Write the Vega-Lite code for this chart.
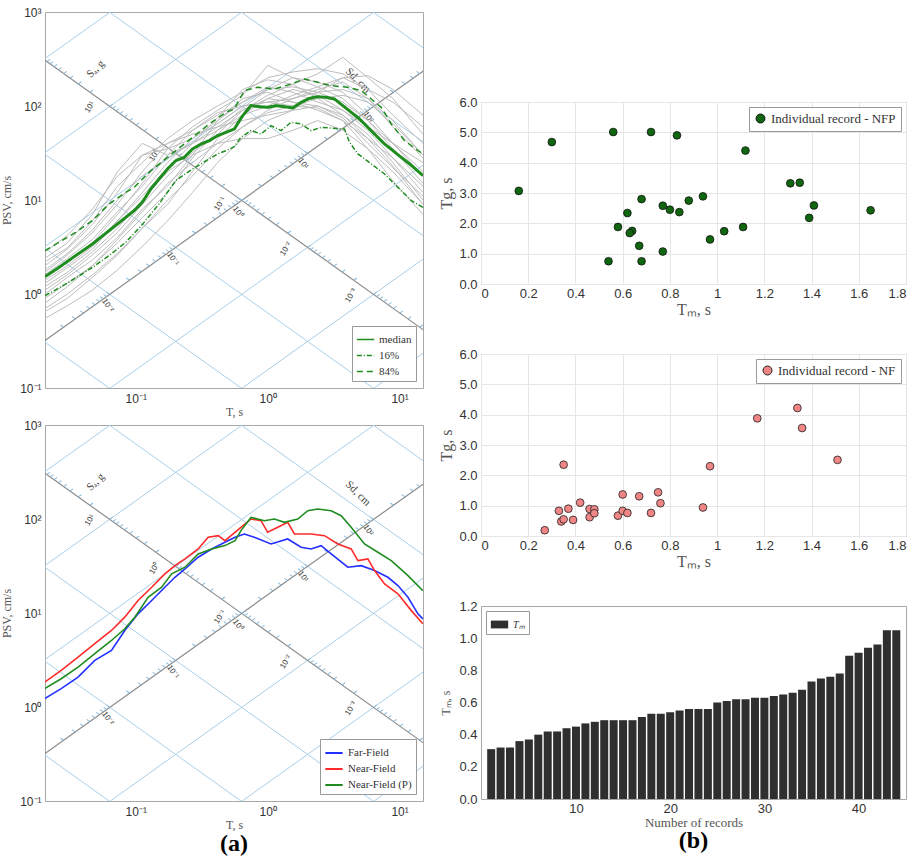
{
"$schema":"https://vega.github.io/schema/vega-lite/v6.json",
"padding":{"left":0,"top":5,"right":5,"bottom":0},
"background":"white",
"config":{
 "view":{"stroke":"#a8a8a8"},
 "axis":{"labelFont":"Liberation Sans","titleFont":"Liberation Serif","titleFontWeight":"normal","labelColor":"#333","titleColor":"#555","domain":false,"ticks":false,"gridColor":"#e6e6e6"},
 "legend":{"strokeColor":"#999","fillColor":"#ffffff","padding":4,"labelFont":"Liberation Serif","labelFontSize":11,"labelColor":"#333","rowPadding":1,"offset":7}
},
"datasets":{
 "grid":[
  {"kind":"blue","T1":0.01,"P1":0.00015613,"T2":20,"P2":0.31226},
  {"kind":"blue","T1":0.01,"P1":0.0015613,"T2":20,"P2":3.1226},
  {"kind":"blue","T1":0.01,"P1":0.015613,"T2":20,"P2":31.226},
  {"kind":"dark","T1":0.01,"P1":0.15613,"T2":20,"P2":312.26},
  {"kind":"blue","T1":0.01,"P1":1.5613,"T2":20,"P2":3122.6},
  {"kind":"blue","T1":0.01,"P1":15.613,"T2":20,"P2":31226},
  {"kind":"blue","T1":0.01,"P1":156.13,"T2":20,"P2":312260},
  {"kind":"blue","T1":0.01,"P1":0.62832,"T2":20,"P2":0.00031416},
  {"kind":"blue","T1":0.01,"P1":6.2832,"T2":20,"P2":0.0031416},
  {"kind":"blue","T1":0.01,"P1":62.832,"T2":20,"P2":0.031416},
  {"kind":"dark","T1":0.01,"P1":628.32,"T2":20,"P2":0.31416},
  {"kind":"blue","T1":0.01,"P1":6283.2,"T2":20,"P2":3.1416},
  {"kind":"blue","T1":0.01,"P1":62832,"T2":20,"P2":31.416},
  {"kind":"blue","T1":0.01,"P1":628320,"T2":20,"P2":314.16}
 ],
 "ticks":[
  {"ax":"Sa","T":14.19,"P":0.4429},{"ax":"Sa","T":11.58,"P":0.5425},{"ax":"Sa","T":10.03,"P":0.6264},{"ax":"Sa","T":8.971,"P":0.7003},{"ax":"Sa","T":8.19,"P":0.7672},{"ax":"Sa","T":7.582,"P":0.8287},{"ax":"Sa","T":7.093,"P":0.8858},{"ax":"Sa","T":6.687,"P":0.9396},
  {"ax":"Sa","T":6.344,"P":0.9904},{"ax":"Sa","T":4.486,"P":1.4007},{"ax":"Sa","T":3.663,"P":1.7155},{"ax":"Sa","T":3.172,"P":1.9809},{"ax":"Sa","T":2.837,"P":2.2147},{"ax":"Sa","T":2.59,"P":2.426},{"ax":"Sa","T":2.398,"P":2.6204},{"ax":"Sa","T":2.243,"P":2.8014},{"ax":"Sa","T":2.115,"P":2.9713},
  {"ax":"Sa","T":2.0061,"P":3.132},{"ax":"Sa","T":1.4185,"P":4.429},{"ax":"Sa","T":1.1582,"P":5.425},{"ax":"Sa","T":1.0031,"P":6.264},{"ax":"Sa","T":0.8971,"P":7.003},{"ax":"Sa","T":0.819,"P":7.672},{"ax":"Sa","T":0.7582,"P":8.287},{"ax":"Sa","T":0.7093,"P":8.858},{"ax":"Sa","T":0.6687,"P":9.396},
  {"ax":"Sa","T":0.6344,"P":9.904},{"ax":"Sa","T":0.4486,"P":14.007},{"ax":"Sa","T":0.3663,"P":17.155},{"ax":"Sa","T":0.3172,"P":19.809},{"ax":"Sa","T":0.2837,"P":22.147},{"ax":"Sa","T":0.259,"P":24.26},{"ax":"Sa","T":0.2398,"P":26.204},{"ax":"Sa","T":0.2243,"P":28.014},{"ax":"Sa","T":0.2115,"P":29.713},
  {"ax":"Sa","T":0.20061,"P":31.32},{"ax":"Sa","T":0.14185,"P":44.29},{"ax":"Sa","T":0.11582,"P":54.25},{"ax":"Sa","T":0.10031,"P":62.64},{"ax":"Sa","T":0.08971,"P":70.03},{"ax":"Sa","T":0.0819,"P":76.72},{"ax":"Sa","T":0.07582,"P":82.87},{"ax":"Sa","T":0.07093,"P":88.58},{"ax":"Sa","T":0.06687,"P":93.96},
  {"ax":"Sa","T":0.06344,"P":99.04},{"ax":"Sa","T":0.04486,"P":140.07},{"ax":"Sa","T":0.03663,"P":171.55},{"ax":"Sa","T":0.03172,"P":198.09},{"ax":"Sa","T":0.02837,"P":221.47},{"ax":"Sa","T":0.0259,"P":242.6},{"ax":"Sa","T":0.02398,"P":262.04},{"ax":"Sa","T":0.02243,"P":280.14},{"ax":"Sa","T":0.02115,"P":297.13},
  {"ax":"Sd","T":0.02837,"P":0.44295},{"ax":"Sd","T":0.034746,"P":0.5425},{"ax":"Sd","T":0.040121,"P":0.62642},{"ax":"Sd","T":0.044857,"P":0.70036},{"ax":"Sd","T":0.049139,"P":0.76721},{"ax":"Sd","T":0.053076,"P":0.82869},{"ax":"Sd","T":0.056741,"P":0.8859},{"ax":"Sd","T":0.060182,"P":0.93963},
  {"ax":"Sd","T":0.063438,"P":0.99046},{"ax":"Sd","T":0.089714,"P":1.4007},{"ax":"Sd","T":0.10988,"P":1.7156},{"ax":"Sd","T":0.12688,"P":1.9809},{"ax":"Sd","T":0.14185,"P":2.2148},{"ax":"Sd","T":0.15539,"P":2.4261},{"ax":"Sd","T":0.16784,"P":2.6206},{"ax":"Sd","T":0.17943,"P":2.8014},{"ax":"Sd","T":0.19031,"P":2.9714},
  {"ax":"Sd","T":0.20061,"P":3.1321},{"ax":"Sd","T":0.2837,"P":4.4295},{"ax":"Sd","T":0.34746,"P":5.425},{"ax":"Sd","T":0.40121,"P":6.2642},{"ax":"Sd","T":0.44857,"P":7.0036},{"ax":"Sd","T":0.49139,"P":7.6721},{"ax":"Sd","T":0.53076,"P":8.2869},{"ax":"Sd","T":0.56741,"P":8.859},{"ax":"Sd","T":0.60182,"P":9.3963},
  {"ax":"Sd","T":0.63438,"P":9.9046},{"ax":"Sd","T":0.89714,"P":14.007},{"ax":"Sd","T":1.0988,"P":17.156},{"ax":"Sd","T":1.2688,"P":19.809},{"ax":"Sd","T":1.4185,"P":22.148},{"ax":"Sd","T":1.5539,"P":24.261},{"ax":"Sd","T":1.6784,"P":26.206},{"ax":"Sd","T":1.7943,"P":28.014},{"ax":"Sd","T":1.9031,"P":29.714},
  {"ax":"Sd","T":2.0061,"P":31.321},{"ax":"Sd","T":2.837,"P":44.295},{"ax":"Sd","T":3.4746,"P":54.25},{"ax":"Sd","T":4.0121,"P":62.642},{"ax":"Sd","T":4.4857,"P":70.036},{"ax":"Sd","T":4.9139,"P":76.721},{"ax":"Sd","T":5.3076,"P":82.869},{"ax":"Sd","T":5.6741,"P":88.59},{"ax":"Sd","T":6.0182,"P":93.963},
  {"ax":"Sd","T":6.3438,"P":99.046},{"ax":"Sd","T":8.9714,"P":140.07},{"ax":"Sd","T":10.988,"P":171.56},{"ax":"Sd","T":12.688,"P":198.09},{"ax":"Sd","T":14.185,"P":221.48}
 ],
 "axlab":[
  {"ax":"Sa","T":0.045,"P":96.8,"lab":"10¹"},{"ax":"Sa","T":0.139,"P":29.6,"lab":"10⁰"},{"ax":"Sa","T":0.437,"P":9.07,"lab":"10⁻¹"},{"ax":"Sa","T":1.378,"P":3.01,"lab":"10⁻²"},{"ax":"Sa","T":4.29,"P":0.96,"lab":"10⁻³"},
  {"ax":"Sd","T":5.75,"P":75.7,"lab":"10²"},{"ax":"Sd","T":1.845,"P":24.2,"lab":"10¹"},{"ax":"Sd","T":0.592,"P":7.39,"lab":"10⁰"},{"ax":"Sd","T":0.19,"P":2.36,"lab":"10⁻¹"},{"ax":"Sd","T":0.061,"P":0.751,"lab":"10⁻²"}
 ],
 "axname":[
  {"ax":"Sa","T":0.0497,"P":247.6,"lab":"Sₐ, g"},
  {"ax":"Sd","T":4.83,"P":186,"lab":"Sd, cm"}
 ],
 "gray":[
  {"T":0.0205,"g1":0.55,"g2":0.7,"g3":0.9,"g4":1.1,"g5":1.3,"g6":1.5,"g7":1.7,"g8":2.0,"g9":2.4,"g10":2.8,"g11":1.2,"g12":0.8,"g13":1.0,"g14":1.8,"g15":0.65,"g16":1.4,"g17":2.2,"g18":1.6},
  {"T":0.0303,"g1":0.75,"g2":1.0,"g3":1.3,"g4":1.6,"g5":1.9,"g6":2.2,"g7":2.6,"g8":3.0,"g9":3.5,"g10":4.2,"g11":1.7,"g12":1.2,"g13":1.5,"g14":2.7,"g15":0.9,"g16":2.0,"g17":3.1,"g18":2.4},
  {"T":0.0469,"g1":1.1,"g2":1.6,"g3":2.0,"g4":2.6,"g5":3.0,"g6":3.5,"g7":4.5,"g8":5.5,"g9":7,"g10":8,"g11":2.8,"g12":2.0,"g13":2.3,"g14":4.8,"g15":1.5,"g16":3.2,"g17":6,"g18":3.8},
  {"T":0.0726,"g1":1.8,"g2":2.7,"g3":3.5,"g4":4.5,"g5":6,"g6":7,"g7":9,"g8":12,"g9":20,"g10":18,"g11":5,"g12":3.8,"g13":4,"g14":10,"g15":2.6,"g16":6,"g17":14,"g18":7.5},
  {"T":0.112,"g1":3.2,"g2":5,"g3":6.5,"g4":9,"g5":12,"g6":15,"g7":20,"g8":30,"g9":40,"g10":30,"g11":10,"g12":7.5,"g13":8,"g14":18,"g15":5,"g16":11,"g17":25,"g18":14},
  {"T":0.174,"g1":6,"g2":9,"g3":12,"g4":18,"g5":25,"g6":35,"g7":40,"g8":35,"g9":30,"g10":40,"g11":20,"g12":15,"g13":14,"g14":28,"g15":10,"g16":22,"g17":45,"g18":30},
  {"T":0.269,"g1":12,"g2":20,"g3":28,"g4":32,"g5":45,"g6":60,"g7":50,"g8":45,"g9":40,"g10":55,"g11":30,"g12":25,"g13":30,"g14":40,"g15":18,"g16":40,"g17":70,"g18":55},
  {"T":0.417,"g1":25,"g2":45,"g3":55,"g4":50,"g5":70,"g6":90,"g7":60,"g8":65,"g9":55,"g10":80,"g11":40,"g12":40,"g13":70,"g14":60,"g15":35,"g16":75,"g17":100,"g18":85},
  {"T":0.646,"g1":45,"g2":80,"g3":95,"g4":90,"g5":110,"g6":130,"g7":70,"g8":100,"g9":80,"g10":110,"g11":45,"g12":60,"g13":120,"g14":90,"g15":60,"g16":150,"g17":140,"g18":100},
  {"T":1.0,"g1":70,"g2":120,"g3":150,"g4":130,"g5":160,"g6":270,"g7":80,"g8":110,"g9":100,"g10":150,"g11":45,"g12":90,"g13":140,"g14":120,"g15":85,"g16":190,"g17":200,"g18":110},
  {"T":1.548,"g1":90,"g2":150,"g3":200,"g4":170,"g5":140,"g6":200,"g7":90,"g8":120,"g9":130,"g10":160,"g11":55,"g12":120,"g13":110,"g14":110,"g15":100,"g16":170,"g17":230,"g18":100},
  {"T":2.397,"g1":100,"g2":130,"g3":180,"g4":220,"g5":110,"g6":160,"g7":140,"g8":150,"g9":160,"g10":140,"g11":70,"g12":140,"g13":90,"g14":100,"g15":120,"g16":120,"g17":250,"g18":95},
  {"T":3.711,"g1":80,"g2":90,"g3":140,"g4":330,"g5":90,"g6":120,"g7":200,"g8":180,"g9":200,"g10":110,"g11":55,"g12":150,"g13":70,"g14":75,"g15":130,"g16":80,"g17":220,"g18":70},
  {"T":5.746,"g1":50,"g2":55,"g3":80,"g4":200,"g5":60,"g6":70,"g7":150,"g8":120,"g9":210,"g10":70,"g11":35,"g12":120,"g13":45,"g14":40,"g15":110,"g16":45,"g17":150,"g18":35},
  {"T":8.896,"g1":25,"g2":28,"g3":40,"g4":120,"g5":40,"g6":35,"g7":80,"g8":60,"g9":150,"g10":40,"g11":20,"g12":70,"g13":28,"g14":22,"g15":65,"g16":23,"g17":110,"g18":16},
  {"T":15.04,"g1":10,"g2":12,"g3":18,"g4":50,"g5":25,"g6":15,"g7":40,"g8":28,"g9":80,"g10":20,"g11":9,"g12":30,"g13":14,"g14":11,"g15":30,"g16":9,"g17":60,"g18":7}
 ],
 "stats":[
  {"stat":"median","T":0.0205,"P":1.53},{"stat":"median","T":0.0262,"P":1.92},{"stat":"median","T":0.035,"P":2.56},{"stat":"median","T":0.0469,"P":3.4},{"stat":"median","T":0.0627,"P":4.72},{"stat":"median","T":0.084,"P":6.54},{"stat":"median","T":0.0971,"P":7.7},{"stat":"median","T":0.112,"P":9.45},{"stat":"median","T":0.13,"P":13.1},{"stat":"median","T":0.15,"P":16.7},{"stat":"median","T":0.174,"P":21.4},{"stat":"median","T":0.201,"P":26.2},{"stat":"median","T":0.233,"P":28.4},{"stat":"median","T":0.269,"P":34.9},{"stat":"median","T":0.312,"P":39.4},{"stat":"median","T":0.361,"P":42.8},{"stat":"median","T":0.417,"P":48.3},{"stat":"median","T":0.483,"P":52.5},{"stat":"median","T":0.558,"P":56.9},{"stat":"median","T":0.646,"P":78.9},{"stat":"median","T":0.747,"P":100.9},{"stat":"median","T":0.865,"P":98.4},{"stat":"median","T":1.0,"P":96.8},{"stat":"median","T":1.157,"P":100.9},{"stat":"median","T":1.339,"P":98.4},{"stat":"median","T":1.548,"P":95.2},{"stat":"median","T":1.791,"P":109.4},{"stat":"median","T":2.072,"P":120.7},{"stat":"median","T":2.397,"P":125.7},{"stat":"median","T":2.773,"P":123.6},{"stat":"median","T":3.208,"P":118.7},{"stat":"median","T":3.711,"P":100.9},{"stat":"median","T":4.293,"P":85.7},{"stat":"median","T":4.967,"P":72.8},{"stat":"median","T":5.746,"P":59.3},{"stat":"median","T":6.647,"P":48.3},{"stat":"median","T":7.69,"P":39.4},{"stat":"median","T":8.896,"P":33.5},{"stat":"median","T":10.29,"P":28.4},{"stat":"median","T":11.9,"P":24.2},{"stat":"median","T":15.04,"P":18.2},
  {"stat":"84%","T":0.0205,"P":2.89},{"stat":"84%","T":0.0262,"P":3.55},{"stat":"84%","T":0.035,"P":4.53},{"stat":"84%","T":0.0469,"P":6.03},{"stat":"84%","T":0.0627,"P":9.07},{"stat":"84%","T":0.084,"P":12.07},{"stat":"84%","T":0.0971,"P":13.6},{"stat":"84%","T":0.13,"P":20.5},{"stat":"84%","T":0.174,"P":28.4},{"stat":"84%","T":0.201,"P":33.5},{"stat":"84%","T":0.269,"P":46.4},{"stat":"84%","T":0.361,"P":64.4},{"stat":"84%","T":0.483,"P":85.7},{"stat":"84%","T":0.558,"P":92.9},{"stat":"84%","T":0.665,"P":145.6},{"stat":"84%","T":0.84,"P":158.1},{"stat":"84%","T":1.124,"P":151.7},{"stat":"84%","T":1.504,"P":171.4},{"stat":"84%","T":1.898,"P":193.8},{"stat":"84%","T":2.397,"P":178.6},{"stat":"84%","T":3.027,"P":164.6},{"stat":"84%","T":4.052,"P":158.1},{"stat":"84%","T":5.117,"P":145.6},{"stat":"84%","T":6.094,"P":118.7},{"stat":"84%","T":7.256,"P":96.8},{"stat":"84%","T":8.645,"P":64.4},{"stat":"84%","T":10.91,"P":42.8},{"stat":"84%","T":13.77,"P":33.5},{"stat":"84%","T":15.04,"P":30.9},
  {"stat":"16%","T":0.0205,"P":0.96},{"stat":"16%","T":0.0262,"P":1.16},{"stat":"16%","T":0.035,"P":1.48},{"stat":"16%","T":0.0469,"P":1.92},{"stat":"16%","T":0.0627,"P":2.56},{"stat":"16%","T":0.084,"P":3.55},{"stat":"16%","T":0.112,"P":5.47},{"stat":"16%","T":0.15,"P":9.07},{"stat":"16%","T":0.201,"P":16.1},{"stat":"16%","T":0.269,"P":21.4},{"stat":"16%","T":0.312,"P":24.2},{"stat":"16%","T":0.417,"P":30.9},{"stat":"16%","T":0.483,"P":33.5},{"stat":"16%","T":0.558,"P":36.9},{"stat":"16%","T":0.627,"P":46.4},{"stat":"16%","T":0.747,"P":54.7},{"stat":"16%","T":0.89,"P":50.4},{"stat":"16%","T":1.06,"P":61.8},{"stat":"16%","T":1.262,"P":54.7},{"stat":"16%","T":1.504,"P":67.0},{"stat":"16%","T":1.791,"P":64.4},{"stat":"16%","T":2.134,"P":54.7},{"stat":"16%","T":2.541,"P":59.3},{"stat":"16%","T":3.027,"P":58.3},{"stat":"16%","T":3.82,"P":56.9},{"stat":"16%","T":4.17,"P":41.1},{"stat":"16%","T":4.83,"P":30.9},{"stat":"16%","T":6.094,"P":24.2},{"stat":"16%","T":7.69,"P":18.9},{"stat":"16%","T":9.71,"P":13.6},{"stat":"16%","T":12.27,"P":9.84},{"stat":"16%","T":15.04,"P":8.36}
 ],
 "bl":[
  {"f":"Far-Field","T":0.0204,"P":1.23},{"f":"Far-Field","T":0.0272,"P":1.57},{"f":"Far-Field","T":0.0365,"P":2.08},{"f":"Far-Field","T":0.0489,"P":3.13},{"f":"Far-Field","T":0.0654,"P":4.0},{"f":"Far-Field","T":0.0825,"P":6.52},{"f":"Far-Field","T":0.104,"P":9.8},{"f":"Far-Field","T":0.132,"P":13.6},{"f":"Far-Field","T":0.166,"P":18.8},{"f":"Far-Field","T":0.198,"P":24.0},{"f":"Far-Field","T":0.236,"P":29.4},{"f":"Far-Field","T":0.297,"P":39.2},{"f":"Far-Field","T":0.376,"P":48.0},{"f":"Far-Field","T":0.474,"P":56.5},{"f":"Far-Field","T":0.565,"P":63.9},{"f":"Far-Field","T":0.665,"P":69.3},{"f":"Far-Field","T":0.792,"P":63.9},{"f":"Far-Field","T":1.06,"P":54.3},{"f":"Far-Field","T":1.419,"P":61.3},{"f":"Far-Field","T":1.791,"P":50.0},{"f":"Far-Field","T":2.134,"P":48.0},{"f":"Far-Field","T":2.541,"P":52.1},{"f":"Far-Field","T":3.027,"P":42.5},{"f":"Far-Field","T":4.052,"P":30.7},{"f":"Far-Field","T":5.117,"P":31.9},{"f":"Far-Field","T":6.457,"P":28.3},{"f":"Far-Field","T":8.15,"P":24.0},{"f":"Far-Field","T":9.71,"P":19.6},{"f":"Far-Field","T":11.57,"P":14.7},{"f":"Far-Field","T":13.77,"P":9.8},{"f":"Far-Field","T":15.0,"P":8.67},
  {"f":"Near-Field","T":0.0204,"P":1.84},{"f":"Near-Field","T":0.0272,"P":2.45},{"f":"Near-Field","T":0.0365,"P":3.4},{"f":"Near-Field","T":0.0489,"P":4.71},{"f":"Near-Field","T":0.0654,"P":6.52},{"f":"Near-Field","T":0.0825,"P":9.03},{"f":"Near-Field","T":0.104,"P":13.6},{"f":"Near-Field","T":0.132,"P":18.8},{"f":"Near-Field","T":0.166,"P":26.1},{"f":"Near-Field","T":0.198,"P":31.9},{"f":"Near-Field","T":0.236,"P":37.6},{"f":"Near-Field","T":0.297,"P":48.0},{"f":"Near-Field","T":0.354,"P":63.9},{"f":"Near-Field","T":0.422,"P":66.5},{"f":"Near-Field","T":0.474,"P":58.9},{"f":"Near-Field","T":0.565,"P":72.2},{"f":"Near-Field","T":0.627,"P":81.6},{"f":"Near-Field","T":0.747,"P":100},{"f":"Near-Field","T":0.89,"P":96.0},{"f":"Near-Field","T":1.0,"P":72.2},{"f":"Near-Field","T":1.191,"P":81.6},{"f":"Near-Field","T":1.419,"P":92.2},{"f":"Near-Field","T":1.594,"P":69.3},{"f":"Near-Field","T":2.134,"P":69.3},{"f":"Near-Field","T":2.694,"P":66.5},{"f":"Near-Field","T":3.401,"P":54.3},{"f":"Near-Field","T":4.293,"P":48.0},{"f":"Near-Field","T":4.83,"P":36.1},{"f":"Near-Field","T":5.746,"P":37.6},{"f":"Near-Field","T":6.457,"P":28.3},{"f":"Near-Field","T":7.69,"P":20.4},{"f":"Near-Field","T":9.71,"P":16.0},{"f":"Near-Field","T":12.27,"P":10.6},{"f":"Near-Field","T":15.0,"P":7.67},
  {"f":"Near-Field (P)","T":0.0204,"P":1.57},{"f":"Near-Field (P)","T":0.0272,"P":2.0},{"f":"Near-Field (P)","T":0.0365,"P":2.66},{"f":"Near-Field (P)","T":0.0489,"P":3.69},{"f":"Near-Field (P)","T":0.0654,"P":5.1},{"f":"Near-Field (P)","T":0.0825,"P":6.79},{"f":"Near-Field (P)","T":0.0983,"P":9.03},{"f":"Near-Field (P)","T":0.124,"P":14.7},{"f":"Near-Field (P)","T":0.157,"P":18.8},{"f":"Near-Field (P)","T":0.187,"P":26.1},{"f":"Near-Field (P)","T":0.236,"P":30.7},{"f":"Near-Field (P)","T":0.297,"P":42.5},{"f":"Near-Field (P)","T":0.376,"P":48.0},{"f":"Near-Field (P)","T":0.474,"P":52.1},{"f":"Near-Field (P)","T":0.565,"P":58.9},{"f":"Near-Field (P)","T":0.627,"P":75.2},{"f":"Near-Field (P)","T":0.747,"P":104},{"f":"Near-Field (P)","T":0.943,"P":96.0},{"f":"Near-Field (P)","T":1.124,"P":100},{"f":"Near-Field (P)","T":1.339,"P":92.2},{"f":"Near-Field (P)","T":1.689,"P":100},{"f":"Near-Field (P)","T":2.012,"P":122.5},{"f":"Near-Field (P)","T":2.397,"P":127.7},{"f":"Near-Field (P)","T":3.027,"P":122.5},{"f":"Near-Field (P)","T":3.605,"P":108.4},{"f":"Near-Field (P)","T":4.293,"P":81.6},{"f":"Near-Field (P)","T":5.42,"P":54.3},{"f":"Near-Field (P)","T":6.84,"P":44.3},{"f":"Near-Field (P)","T":8.645,"P":36.1},{"f":"Near-Field (P)","T":11.57,"P":25.0},{"f":"Near-Field (P)","T":15.0,"P":17.3}
 ],
 "nfp":[
  {"s":"Individual record - NFP","Tm":0.16,"Tg":3.07},{"s":"Individual record - NFP","Tm":0.30,"Tg":4.68},{"s":"Individual record - NFP","Tm":0.56,"Tg":5.01},{"s":"Individual record - NFP","Tm":0.72,"Tg":5.01},{"s":"Individual record - NFP","Tm":0.83,"Tg":4.90},{"s":"Individual record - NFP","Tm":1.12,"Tg":4.40},{"s":"Individual record - NFP","Tm":1.31,"Tg":3.32},{"s":"Individual record - NFP","Tm":1.35,"Tg":3.34},{"s":"Individual record - NFP","Tm":1.41,"Tg":2.59},{"s":"Individual record - NFP","Tm":1.39,"Tg":2.18},{"s":"Individual record - NFP","Tm":1.65,"Tg":2.43},{"s":"Individual record - NFP","Tm":0.58,"Tg":1.88},{"s":"Individual record - NFP","Tm":0.62,"Tg":2.34},{"s":"Individual record - NFP","Tm":0.68,"Tg":2.80},{"s":"Individual record - NFP","Tm":0.64,"Tg":1.75},{"s":"Individual record - NFP","Tm":0.63,"Tg":1.68},{"s":"Individual record - NFP","Tm":0.67,"Tg":1.26},{"s":"Individual record - NFP","Tm":0.54,"Tg":0.75},{"s":"Individual record - NFP","Tm":0.68,"Tg":0.75},{"s":"Individual record - NFP","Tm":0.77,"Tg":1.07},{"s":"Individual record - NFP","Tm":0.77,"Tg":2.58},{"s":"Individual record - NFP","Tm":0.80,"Tg":2.45},{"s":"Individual record - NFP","Tm":0.84,"Tg":2.37},{"s":"Individual record - NFP","Tm":0.88,"Tg":2.75},{"s":"Individual record - NFP","Tm":0.94,"Tg":2.89},{"s":"Individual record - NFP","Tm":0.97,"Tg":1.47},{"s":"Individual record - NFP","Tm":1.03,"Tg":1.74},{"s":"Individual record - NFP","Tm":1.11,"Tg":1.88}
 ],
 "nf":[
  {"s":"Individual record - NF","Tm":0.27,"Tg":0.19},{"s":"Individual record - NF","Tm":0.35,"Tg":2.35},{"s":"Individual record - NF","Tm":0.33,"Tg":0.83},{"s":"Individual record - NF","Tm":0.34,"Tg":0.48},{"s":"Individual record - NF","Tm":0.35,"Tg":0.55},{"s":"Individual record - NF","Tm":0.37,"Tg":0.90},{"s":"Individual record - NF","Tm":0.39,"Tg":0.53},{"s":"Individual record - NF","Tm":0.42,"Tg":1.10},{"s":"Individual record - NF","Tm":0.46,"Tg":0.89},{"s":"Individual record - NF","Tm":0.48,"Tg":0.88},{"s":"Individual record - NF","Tm":0.46,"Tg":0.62},{"s":"Individual record - NF","Tm":0.48,"Tg":0.75},{"s":"Individual record - NF","Tm":0.58,"Tg":0.67},{"s":"Individual record - NF","Tm":0.60,"Tg":1.37},{"s":"Individual record - NF","Tm":0.60,"Tg":0.83},{"s":"Individual record - NF","Tm":0.62,"Tg":0.76},{"s":"Individual record - NF","Tm":0.67,"Tg":1.31},{"s":"Individual record - NF","Tm":0.72,"Tg":0.76},{"s":"Individual record - NF","Tm":0.75,"Tg":1.44},{"s":"Individual record - NF","Tm":0.76,"Tg":1.08},{"s":"Individual record - NF","Tm":0.94,"Tg":0.94},{"s":"Individual record - NF","Tm":0.97,"Tg":2.30},{"s":"Individual record - NF","Tm":1.17,"Tg":3.88},{"s":"Individual record - NF","Tm":1.34,"Tg":4.22},{"s":"Individual record - NF","Tm":1.36,"Tg":3.56},{"s":"Individual record - NF","Tm":1.51,"Tg":2.51}
 ],
 "bars":[
  {"s":"Tₘ","n":1,"Tm":0.31},{"s":"Tₘ","n":2,"Tm":0.32},{"s":"Tₘ","n":3,"Tm":0.32},{"s":"Tₘ","n":4,"Tm":0.36},{"s":"Tₘ","n":5,"Tm":0.37},{"s":"Tₘ","n":6,"Tm":0.40},{"s":"Tₘ","n":7,"Tm":0.42},{"s":"Tₘ","n":8,"Tm":0.42},{"s":"Tₘ","n":9,"Tm":0.44},{"s":"Tₘ","n":10,"Tm":0.45},{"s":"Tₘ","n":11,"Tm":0.47},{"s":"Tₘ","n":12,"Tm":0.48},{"s":"Tₘ","n":13,"Tm":0.49},{"s":"Tₘ","n":14,"Tm":0.49},{"s":"Tₘ","n":15,"Tm":0.49},{"s":"Tₘ","n":16,"Tm":0.49},{"s":"Tₘ","n":17,"Tm":0.51},{"s":"Tₘ","n":18,"Tm":0.53},{"s":"Tₘ","n":19,"Tm":0.53},{"s":"Tₘ","n":20,"Tm":0.54},{"s":"Tₘ","n":21,"Tm":0.55},{"s":"Tₘ","n":22,"Tm":0.56},{"s":"Tₘ","n":23,"Tm":0.56},{"s":"Tₘ","n":24,"Tm":0.56},{"s":"Tₘ","n":25,"Tm":0.60},{"s":"Tₘ","n":26,"Tm":0.61},{"s":"Tₘ","n":27,"Tm":0.62},{"s":"Tₘ","n":28,"Tm":0.62},{"s":"Tₘ","n":29,"Tm":0.63},{"s":"Tₘ","n":30,"Tm":0.63},{"s":"Tₘ","n":31,"Tm":0.64},{"s":"Tₘ","n":32,"Tm":0.65},{"s":"Tₘ","n":33,"Tm":0.66},{"s":"Tₘ","n":34,"Tm":0.68},{"s":"Tₘ","n":35,"Tm":0.73},{"s":"Tₘ","n":36,"Tm":0.75},{"s":"Tₘ","n":37,"Tm":0.76},{"s":"Tₘ","n":38,"Tm":0.78},{"s":"Tₘ","n":39,"Tm":0.89},{"s":"Tₘ","n":40,"Tm":0.91},{"s":"Tₘ","n":41,"Tm":0.94},{"s":"Tₘ","n":42,"Tm":0.96},{"s":"Tₘ","n":43,"Tm":1.05},{"s":"Tₘ","n":44,"Tm":1.05}
 ]
},
"resolve":{"scale":{"color":"independent","strokeDash":"independent"},"legend":{"color":"independent","strokeDash":"independent"}},
"hconcat":[
 {"spacing":0,
  "resolve":{"scale":{"color":"independent","strokeDash":"independent"},"legend":{"color":"independent","strokeDash":"independent"}},
  "vconcat":[
  {"width":378,"height":376,
   "layer":[
    {"data":{"name":"grid"},"transform":[{"filter":"datum.kind == 'blue'"}],"mark":{"type":"rule","color":"#a9cfe8","strokeWidth":1,"clip":true},
     "encoding":{"x":{"field":"T1","type":"quantitative","scale":{"type":"log","domain":[0.0205,15.04],"nice":false}},"x2":{"field":"T2"},"y":{"field":"P1","type":"quantitative","scale":{"type":"log","domain":[0.1,1000],"nice":false}},"y2":{"field":"P2"}}},
    {"data":{"name":"grid"},"transform":[{"filter":"datum.kind == 'dark'"}],"mark":{"type":"rule","color":"#8c8c8c","strokeWidth":1.2,"clip":true},
     "encoding":{"x":{"field":"T1","type":"quantitative","scale":{"type":"log","domain":[0.0205,15.04],"nice":false}},"x2":{"field":"T2"},"y":{"field":"P1","type":"quantitative","scale":{"type":"log","domain":[0.1,1000],"nice":false}},"y2":{"field":"P2"}}},
    {"data":{"name":"ticks"},"transform":[{"filter":"datum.ax == 'Sa'"}],"mark":{"type":"point","shape":"M0,0L1,0","angle":-35.5,"size":60,"color":"#86b9dc","strokeWidth":1,"opacity":1,"clip":true},
     "encoding":{"x":{"field":"T","type":"quantitative","scale":{"type":"log","domain":[0.0205,15.04],"nice":false}},"y":{"field":"P","type":"quantitative","scale":{"type":"log","domain":[0.1,1000],"nice":false}}}},
    {"data":{"name":"ticks"},"transform":[{"filter":"datum.ax == 'Sd'"}],"mark":{"type":"point","shape":"M0,0L-1,0","angle":35.5,"size":60,"color":"#86b9dc","strokeWidth":1,"opacity":1,"clip":true},
     "encoding":{"x":{"field":"T","type":"quantitative","scale":{"type":"log","domain":[0.0205,15.04],"nice":false}},"y":{"field":"P","type":"quantitative","scale":{"type":"log","domain":[0.1,1000],"nice":false}}}},
    {"data":{"name":"axlab"},"transform":[{"filter":"datum.ax == 'Sa'"}],"mark":{"type":"text","angle":-58,"fontSize":8,"font":"Liberation Sans","color":"#333"},
     "encoding":{"x":{"field":"T","type":"quantitative","scale":{"type":"log","domain":[0.0205,15.04],"nice":false}},"y":{"field":"P","type":"quantitative","scale":{"type":"log","domain":[0.1,1000],"nice":false}},"text":{"field":"lab"}}},
    {"data":{"name":"axlab"},"transform":[{"filter":"datum.ax == 'Sd'"}],"mark":{"type":"text","angle":55,"fontSize":8,"font":"Liberation Sans","color":"#333"},
     "encoding":{"x":{"field":"T","type":"quantitative","scale":{"type":"log","domain":[0.0205,15.04],"nice":false}},"y":{"field":"P","type":"quantitative","scale":{"type":"log","domain":[0.1,1000],"nice":false}},"text":{"field":"lab"}}},
    {"data":{"name":"axname"},"transform":[{"filter":"datum.ax == 'Sa'"}],"mark":{"type":"text","angle":-45,"fontSize":11,"font":"Liberation Serif","color":"#444"},
     "encoding":{"x":{"field":"T","type":"quantitative","scale":{"type":"log","domain":[0.0205,15.04],"nice":false}},"y":{"field":"P","type":"quantitative","scale":{"type":"log","domain":[0.1,1000],"nice":false}},"text":{"field":"lab"}}},
    {"data":{"name":"axname"},"transform":[{"filter":"datum.ax == 'Sd'"}],"mark":{"type":"text","angle":45,"fontSize":11,"font":"Liberation Serif","color":"#444"},
     "encoding":{"x":{"field":"T","type":"quantitative","scale":{"type":"log","domain":[0.0205,15.04],"nice":false}},"y":{"field":"P","type":"quantitative","scale":{"type":"log","domain":[0.1,1000],"nice":false}},"text":{"field":"lab"}}},
    {"data":{"name":"gray"},"transform":[{"fold":["g1","g2","g3","g4","g5","g6","g7","g8","g9","g10","g11","g12","g13","g14","g15","g16","g17","g18"],"as":["r","P"]}],"mark":{"type":"line","color":"#bdbdbd","strokeWidth":1,"clip":true},
     "encoding":{"x":{"field":"T","type":"quantitative","scale":{"type":"log","domain":[0.0205,15.04],"nice":false}},"y":{"field":"P","type":"quantitative","scale":{"type":"log","domain":[0.1,1000],"nice":false}},"detail":{"field":"r"}}},
    {"data":{"name":"stats"},"mark":{"type":"line","clip":true},
     "encoding":{
      "x":{"field":"T","type":"quantitative","scale":{"type":"log","domain":[0.0205,15.04],"nice":false},"axis":{"title":"T, s","values":[0.1,1,10],"labelExpr":"datum.value < 0.5 ? '10⁻¹' : datum.value < 5 ? '10⁰' : '10¹'","grid":false,"labelFontSize":12,"titleFontSize":12,"labelPadding":5,"titlePadding":2}},
      "y":{"field":"P","type":"quantitative","scale":{"type":"log","domain":[0.1,1000],"nice":false},"axis":{"title":"PSV, cm/s","values":[0.1,1,10,100,1000],"labelExpr":"datum.value < 0.5 ? '10⁻¹' : datum.value < 5 ? '10⁰' : datum.value < 50 ? '10¹' : datum.value < 500 ? '10²' : '10³'","grid":false,"labelFontSize":12,"titleFontSize":12,"labelPadding":4,"titlePadding":6}},
      "color":{"field":"stat","type":"nominal","scale":{"domain":["median","16%","84%"],"range":["#1e8c1e","#1e8c1e","#1e8c1e"]},"legend":{"title":null,"orient":"bottom-right","symbolType":"stroke","symbolSize":300,"symbolStrokeWidth":1.5}},
      "strokeDash":{"field":"stat","type":"nominal","scale":{"domain":["median","16%","84%"],"range":[[1,0],[5,2,1,2],[6,4]]},"legend":{"title":null,"orient":"bottom-right","symbolType":"stroke","symbolSize":300,"symbolStrokeWidth":1.5}},
      "strokeWidth":{"condition":{"test":"datum.stat === 'median'","value":3},"value":1.5}
     }}
   ]},
  {"width":378,"height":376,
   "title":{"text":"(a)","orient":"bottom","anchor":"middle","font":"Liberation Serif","fontSize":24,"fontWeight":"bold","color":"#000","offset":2},
   "layer":[
    {"data":{"name":"grid"},"transform":[{"filter":"datum.kind == 'blue'"}],"mark":{"type":"rule","color":"#a9cfe8","strokeWidth":1,"clip":true},
     "encoding":{"x":{"field":"T1","type":"quantitative","scale":{"type":"log","domain":[0.0205,15.04],"nice":false}},"x2":{"field":"T2"},"y":{"field":"P1","type":"quantitative","scale":{"type":"log","domain":[0.1,1000],"nice":false}},"y2":{"field":"P2"}}},
    {"data":{"name":"grid"},"transform":[{"filter":"datum.kind == 'dark'"}],"mark":{"type":"rule","color":"#8c8c8c","strokeWidth":1.2,"clip":true},
     "encoding":{"x":{"field":"T1","type":"quantitative","scale":{"type":"log","domain":[0.0205,15.04],"nice":false}},"x2":{"field":"T2"},"y":{"field":"P1","type":"quantitative","scale":{"type":"log","domain":[0.1,1000],"nice":false}},"y2":{"field":"P2"}}},
    {"data":{"name":"ticks"},"transform":[{"filter":"datum.ax == 'Sa'"}],"mark":{"type":"point","shape":"M0,0L1,0","angle":-35.5,"size":60,"color":"#86b9dc","strokeWidth":1,"opacity":1,"clip":true},
     "encoding":{"x":{"field":"T","type":"quantitative","scale":{"type":"log","domain":[0.0205,15.04],"nice":false}},"y":{"field":"P","type":"quantitative","scale":{"type":"log","domain":[0.1,1000],"nice":false}}}},
    {"data":{"name":"ticks"},"transform":[{"filter":"datum.ax == 'Sd'"}],"mark":{"type":"point","shape":"M0,0L-1,0","angle":35.5,"size":60,"color":"#86b9dc","strokeWidth":1,"opacity":1,"clip":true},
     "encoding":{"x":{"field":"T","type":"quantitative","scale":{"type":"log","domain":[0.0205,15.04],"nice":false}},"y":{"field":"P","type":"quantitative","scale":{"type":"log","domain":[0.1,1000],"nice":false}}}},
    {"data":{"name":"axlab"},"transform":[{"filter":"datum.ax == 'Sa'"}],"mark":{"type":"text","angle":-58,"fontSize":8,"font":"Liberation Sans","color":"#333"},
     "encoding":{"x":{"field":"T","type":"quantitative","scale":{"type":"log","domain":[0.0205,15.04],"nice":false}},"y":{"field":"P","type":"quantitative","scale":{"type":"log","domain":[0.1,1000],"nice":false}},"text":{"field":"lab"}}},
    {"data":{"name":"axlab"},"transform":[{"filter":"datum.ax == 'Sd'"}],"mark":{"type":"text","angle":55,"fontSize":8,"font":"Liberation Sans","color":"#333"},
     "encoding":{"x":{"field":"T","type":"quantitative","scale":{"type":"log","domain":[0.0205,15.04],"nice":false}},"y":{"field":"P","type":"quantitative","scale":{"type":"log","domain":[0.1,1000],"nice":false}},"text":{"field":"lab"}}},
    {"data":{"name":"axname"},"transform":[{"filter":"datum.ax == 'Sa'"}],"mark":{"type":"text","angle":-45,"fontSize":11,"font":"Liberation Serif","color":"#444"},
     "encoding":{"x":{"field":"T","type":"quantitative","scale":{"type":"log","domain":[0.0205,15.04],"nice":false}},"y":{"field":"P","type":"quantitative","scale":{"type":"log","domain":[0.1,1000],"nice":false}},"text":{"field":"lab"}}},
    {"data":{"name":"axname"},"transform":[{"filter":"datum.ax == 'Sd'"}],"mark":{"type":"text","angle":45,"fontSize":11,"font":"Liberation Serif","color":"#444"},
     "encoding":{"x":{"field":"T","type":"quantitative","scale":{"type":"log","domain":[0.0205,15.04],"nice":false}},"y":{"field":"P","type":"quantitative","scale":{"type":"log","domain":[0.1,1000],"nice":false}},"text":{"field":"lab"}}},
    {"data":{"name":"bl"},"mark":{"type":"line","strokeWidth":1.6,"clip":true},
     "encoding":{
      "x":{"field":"T","type":"quantitative","scale":{"type":"log","domain":[0.0205,15.04],"nice":false},"axis":{"title":"T, s","values":[0.1,1,10],"labelExpr":"datum.value < 0.5 ? '10⁻¹' : datum.value < 5 ? '10⁰' : '10¹'","grid":false,"labelFontSize":12,"titleFontSize":12,"labelPadding":5,"titlePadding":2}},
      "y":{"field":"P","type":"quantitative","scale":{"type":"log","domain":[0.1,1000],"nice":false},"axis":{"title":"PSV, cm/s","values":[0.1,1,10,100,1000],"labelExpr":"datum.value < 0.5 ? '10⁻¹' : datum.value < 5 ? '10⁰' : datum.value < 50 ? '10¹' : datum.value < 500 ? '10²' : '10³'","grid":false,"labelFontSize":12,"titleFontSize":12,"labelPadding":4,"titlePadding":6}},
      "color":{"field":"f","type":"nominal","scale":{"domain":["Far-Field","Near-Field","Near-Field (P)"],"range":["#2330ff","#ff2b2b","#1f8c1f"]},"legend":{"title":null,"orient":"bottom-right","symbolType":"stroke","symbolSize":300,"symbolStrokeWidth":2}}
     }}
   ]}
 ]},
 {"spacing":29,
  "resolve":{"scale":{"color":"independent"},"legend":{"color":"independent"}},
  "vconcat":[
  {"width":425,"height":54,"data":{"values":[{"e":""}]},"mark":{"type":"text"},"encoding":{"x":{"value":0},"y":{"value":0},"text":{"field":"e"}},"view":{"stroke":null}},
  {"width":425,"height":182,"data":{"name":"nfp"},
   "mark":{"type":"circle","size":60,"stroke":"#111","strokeWidth":0.8,"opacity":1},
   "encoding":{
    "x":{"field":"Tm","type":"quantitative","scale":{"domain":[0,1.8],"nice":false},"axis":{"title":"Tₘ, s","values":[0,0.2,0.4,0.6,0.8,1,1.2,1.4,1.6,1.8],"format":"~g","grid":true,"labelFontSize":13,"titleFontSize":16,"labelPadding":3,"titlePadding":1}},
    "y":{"field":"Tg","type":"quantitative","scale":{"domain":[0,6],"nice":false},"axis":{"title":"Tg, s","values":[0,1,2,3,4,5,6],"format":".1f","grid":true,"labelFontSize":13,"titleFontSize":16,"labelPadding":4,"titlePadding":4}},
    "color":{"field":"s","type":"nominal","scale":{"range":["#0f660f"]},"legend":{"title":null,"orient":"top-right","offset":5,"symbolType":"circle","symbolSize":80,"symbolStrokeColor":"#111","symbolStrokeWidth":1,"labelFont":"Liberation Serif","labelFontSize":13,"padding":5}}
   }},
  {"width":425,"height":182,"data":{"name":"nf"},
   "mark":{"type":"circle","size":60,"stroke":"#222","strokeWidth":0.8,"opacity":1},
   "encoding":{
    "x":{"field":"Tm","type":"quantitative","scale":{"domain":[0,1.8],"nice":false},"axis":{"title":"Tₘ, s","values":[0,0.2,0.4,0.6,0.8,1,1.2,1.4,1.6,1.8],"format":"~g","grid":true,"labelFontSize":13,"titleFontSize":16,"labelPadding":3,"titlePadding":1}},
    "y":{"field":"Tg","type":"quantitative","scale":{"domain":[0,6],"nice":false},"axis":{"title":"Tg, s","values":[0,1,2,3,4,5,6],"format":".1f","grid":true,"labelFontSize":13,"titleFontSize":16,"labelPadding":4,"titlePadding":4}},
    "color":{"field":"s","type":"nominal","scale":{"range":["#f08585"]},"legend":{"title":null,"orient":"top-right","offset":5,"symbolType":"circle","symbolSize":80,"symbolStrokeColor":"#222","symbolStrokeWidth":1,"labelFont":"Liberation Serif","labelFontSize":13,"padding":5}}
   }},
  {"width":425,"height":193,"data":{"name":"bars"},
   "title":{"text":"(b)","orient":"bottom","anchor":"middle","font":"Liberation Serif","fontSize":24,"fontWeight":"bold","color":"#000","offset":0},
   "mark":{"type":"bar","width":8},
   "encoding":{
    "x":{"field":"n","type":"quantitative","scale":{"domain":[0.45,44.5],"nice":false,"zero":false},"axis":{"title":"Number of records","values":[10,20,30,40],"grid":false,"labelFontSize":13,"titleFontSize":13,"labelPadding":3,"titlePadding":1}},
    "y":{"field":"Tm","type":"quantitative","scale":{"domain":[0,1.2],"nice":false},"axis":{"title":"Tₘ, s","values":[0,0.2,0.4,0.6,0.8,1,1.2],"format":".1f","grid":false,"labelFontSize":13,"titleFontSize":12,"labelPadding":4,"titlePadding":6}},
    "color":{"field":"s","type":"nominal","scale":{"range":["#2f2f2f"]},"legend":{"title":null,"orient":"top-left","offset":5,"symbolType":"M-1,-0.45H1V0.45H-1Z","symbolSize":300,"labelFontSize":10,"labelFontStyle":"italic","padding":4}}
   }}
 ]}
],
"spacing":14
}
